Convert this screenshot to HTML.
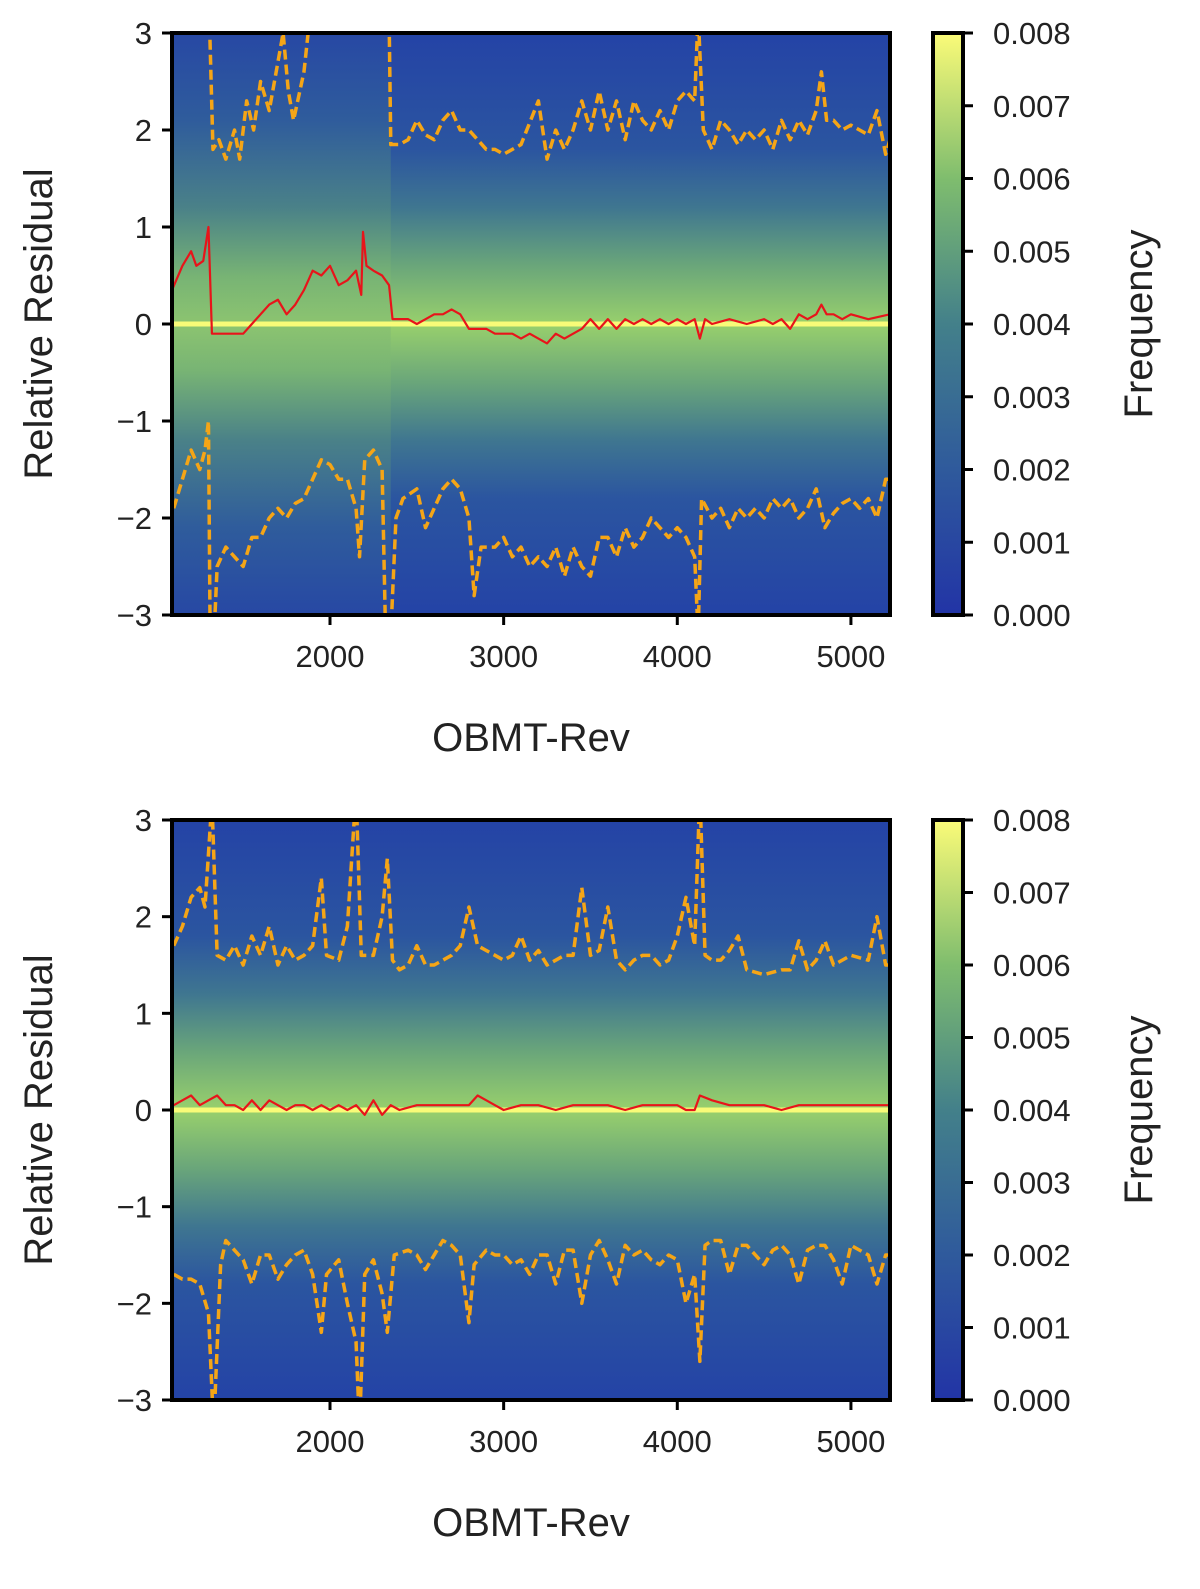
<!DOCTYPE html>
<html><head><meta charset="utf-8"><style>
html,body{margin:0;padding:0;background:#fff;width:1200px;height:1589px;overflow:hidden}
svg{display:block;font-family:"Liberation Sans",sans-serif}
</style></head><body>
<svg id="fig" width="1200" height="1589" viewBox="0 0 1200 1589">
<defs>
<linearGradient id="cb" x1="0" y1="1" x2="0" y2="0">
<stop offset="0" stop-color="#2234a6"/><stop offset="0.25" stop-color="#2f5a9c"/><stop offset="0.5" stop-color="#43808a"/><stop offset="0.75" stop-color="#7fbd6e"/><stop offset="1" stop-color="#fbfb78"/>
</linearGradient>
<linearGradient id="hm" x1="0" y1="0" x2="0" y2="1">
<stop offset="0" stop-color="#2443a6"/><stop offset="0.2" stop-color="#2b55a0"/><stop offset="0.3" stop-color="#3f7690"/><stop offset="0.4" stop-color="#6aa67a"/><stop offset="0.5" stop-color="#98d06c"/><stop offset="0.6" stop-color="#6aa67a"/><stop offset="0.7" stop-color="#3f7690"/><stop offset="0.8" stop-color="#2b55a0"/><stop offset="1" stop-color="#2443a6"/>
</linearGradient>
<linearGradient id="hmw" x1="0" y1="0" x2="0" y2="1">
<stop offset="0" stop-color="#2748a4"/><stop offset="0.15" stop-color="#2f5c9c"/><stop offset="0.3" stop-color="#4a8188"/><stop offset="0.42" stop-color="#78b474"/><stop offset="0.5" stop-color="#8cc470"/><stop offset="0.58" stop-color="#78b474"/><stop offset="0.7" stop-color="#4a8188"/><stop offset="0.85" stop-color="#2f5c9c"/><stop offset="1" stop-color="#2748a4"/>
</linearGradient>
<clipPath id="c1"><rect x="172" y="33" width="718" height="582"/></clipPath>
<clipPath id="c2"><rect x="172" y="820" width="718" height="580"/></clipPath>
</defs>
<g id="p1"></g>
<g id="p2"></g>
</svg>
<script>
const xTicks=[2000,3000,4000,5000];
const yTicks=[3,2,1,0,-1,-2,-3];
const cbTicks=["0.000","0.001","0.002","0.003","0.004","0.005","0.006","0.007","0.008"];

const topUpX=[1100,1300,1326,1360,1400,1450,1480,1520,1560,1600,1650,1700,1730,1760,1790,1850,1880,1950,2050,2100,2340,2350,2400,2450,2500,2550,2600,2650,2700,2750,2800,2850,2900,2950,3000,3100,3200,3250,3300,3350,3400,3450,3500,3550,3600,3650,3700,3750,3800,3850,3900,3950,4000,4050,4100,4120,4150,4200,4250,4300,4350,4400,4450,4500,4550,4600,4650,4700,4750,4800,4830,4860,4900,4950,5000,5050,5100,5150,5200,5225];
const topUpY=[3.5,3.5,1.8,1.9,1.7,2.0,1.7,2.3,2.0,2.5,2.2,2.7,3.0,2.4,2.1,2.6,3.1,3.4,3.0,3.2,3.2,1.85,1.85,1.9,2.1,1.95,1.9,2.1,2.2,2.0,2.0,1.9,1.8,1.8,1.75,1.85,2.3,1.7,2.0,1.8,2.0,2.3,2.0,2.4,2.0,2.3,1.9,2.3,2.1,2.0,2.2,2.0,2.3,2.4,2.3,3.2,2.0,1.8,2.1,2.0,1.85,2.0,1.9,2.0,1.8,2.1,1.9,2.1,1.95,2.2,2.6,2.1,2.1,2.0,2.05,2.0,1.95,2.2,1.75,1.9];
const topLoX=[1100,1150,1200,1250,1280,1300,1310,1330,1350,1400,1450,1500,1550,1600,1650,1700,1750,1800,1850,1900,1950,2000,2050,2100,2150,2170,2200,2250,2300,2320,2350,2380,2420,2500,2550,2600,2650,2700,2750,2800,2830,2870,2950,3000,3050,3100,3150,3200,3250,3300,3350,3400,3450,3500,3550,3600,3650,3700,3750,3800,3850,3900,3950,4000,4050,4100,4120,4140,4200,4250,4300,4350,4400,4450,4500,4550,4600,4650,4700,4750,4800,4850,4900,4950,5000,5050,5100,5150,5200,5225];
const topLoY=[-1.9,-1.6,-1.3,-1.5,-1.3,-1.0,-3.3,-3.3,-2.5,-2.3,-2.4,-2.5,-2.2,-2.2,-2.0,-1.9,-2.0,-1.85,-1.8,-1.6,-1.4,-1.45,-1.6,-1.6,-1.9,-2.4,-1.4,-1.3,-1.5,-3.2,-3.2,-2.0,-1.8,-1.7,-2.1,-1.9,-1.7,-1.6,-1.7,-2.0,-2.8,-2.3,-2.3,-2.2,-2.4,-2.3,-2.5,-2.4,-2.5,-2.3,-2.6,-2.3,-2.5,-2.6,-2.2,-2.2,-2.4,-2.1,-2.3,-2.2,-2.0,-2.1,-2.2,-2.1,-2.2,-2.4,-3.2,-1.8,-2.0,-1.9,-2.1,-1.9,-2.0,-1.9,-2.0,-1.8,-1.9,-1.8,-2.0,-1.9,-1.7,-2.1,-1.95,-1.85,-1.8,-1.9,-1.8,-2.0,-1.6,-1.6];
const topMedX=[1090,1150,1200,1230,1270,1300,1320,1350,1400,1450,1500,1550,1600,1650,1700,1750,1800,1850,1900,1950,2000,2050,2100,2150,2180,2190,2210,2250,2300,2340,2360,2400,2450,2500,2550,2600,2650,2700,2750,2800,2850,2900,2950,3000,3050,3100,3150,3200,3250,3300,3350,3400,3450,3500,3550,3600,3650,3700,3750,3800,3850,3900,3950,4000,4050,4100,4130,4160,4200,4300,4400,4500,4550,4600,4650,4700,4750,4800,4830,4860,4900,4950,5000,5100,5225];
const topMedY=[0.35,0.6,0.75,0.6,0.65,1.0,-0.1,-0.1,-0.1,-0.1,-0.1,0.0,0.1,0.2,0.25,0.1,0.2,0.35,0.55,0.5,0.6,0.4,0.45,0.55,0.3,0.95,0.6,0.55,0.5,0.4,0.05,0.05,0.05,0.0,0.05,0.1,0.1,0.15,0.1,-0.05,-0.05,-0.05,-0.1,-0.1,-0.1,-0.15,-0.1,-0.15,-0.2,-0.1,-0.15,-0.1,-0.05,0.05,-0.05,0.05,-0.05,0.05,0.0,0.05,0.0,0.05,0.0,0.05,0.0,0.05,-0.15,0.05,0.0,0.05,0.0,0.05,0.0,0.05,-0.05,0.1,0.05,0.1,0.2,0.1,0.1,0.05,0.1,0.05,0.1];

const botUpX=[1100,1150,1200,1250,1280,1320,1350,1400,1450,1500,1550,1600,1650,1700,1750,1800,1850,1900,1950,1980,2050,2100,2150,2180,2250,2300,2330,2360,2400,2450,2500,2550,2600,2650,2700,2750,2800,2850,2900,2950,3000,3050,3100,3150,3200,3250,3300,3350,3400,3450,3500,3550,3600,3650,3700,3750,3800,3850,3900,3950,4000,4050,4100,4130,4160,4200,4250,4300,4350,4400,4500,4600,4650,4700,4750,4800,4850,4900,5000,5100,5150,5200,5225];
const botUpY=[1.7,1.9,2.2,2.3,2.1,3.2,1.6,1.55,1.7,1.5,1.8,1.6,1.9,1.5,1.7,1.55,1.6,1.7,2.4,1.6,1.55,1.9,3.3,1.6,1.6,2.0,2.6,1.55,1.45,1.5,1.7,1.5,1.5,1.55,1.6,1.7,2.1,1.7,1.65,1.6,1.55,1.6,1.8,1.55,1.65,1.5,1.55,1.6,1.6,2.3,1.6,1.65,2.1,1.55,1.45,1.55,1.6,1.6,1.5,1.55,1.8,2.2,1.7,3.3,1.6,1.55,1.55,1.65,1.8,1.45,1.4,1.45,1.45,1.75,1.45,1.55,1.75,1.5,1.6,1.55,2.0,1.5,1.5];
const botLoX=[1100,1150,1200,1250,1300,1330,1370,1400,1450,1500,1550,1600,1650,1700,1750,1800,1850,1900,1950,1980,2050,2100,2150,2170,2200,2250,2300,2330,2370,2450,2500,2550,2600,2650,2700,2750,2800,2830,2900,2950,3000,3050,3100,3150,3200,3250,3300,3350,3400,3450,3500,3550,3600,3650,3700,3750,3800,3850,3900,3950,4000,4050,4100,4130,4160,4200,4250,4300,4350,4400,4450,4500,4550,4600,4650,4700,4750,4800,4850,4900,4950,5000,5100,5150,5200,5225];
const botLoY=[-1.7,-1.75,-1.75,-1.8,-2.1,-3.3,-1.6,-1.35,-1.45,-1.55,-1.8,-1.5,-1.5,-1.75,-1.6,-1.5,-1.45,-1.7,-2.3,-1.7,-1.55,-2.0,-2.4,-3.3,-1.7,-1.55,-1.9,-2.3,-1.5,-1.45,-1.5,-1.65,-1.5,-1.35,-1.4,-1.5,-2.2,-1.6,-1.45,-1.5,-1.5,-1.6,-1.55,-1.7,-1.5,-1.5,-1.8,-1.45,-1.45,-2.0,-1.5,-1.35,-1.55,-1.8,-1.4,-1.5,-1.45,-1.55,-1.6,-1.5,-1.55,-2.0,-1.7,-2.6,-1.4,-1.35,-1.35,-1.7,-1.4,-1.4,-1.5,-1.6,-1.45,-1.4,-1.5,-1.8,-1.45,-1.4,-1.4,-1.55,-1.8,-1.4,-1.5,-1.8,-1.5,-1.5];
const botMedX=[1100,1150,1200,1250,1300,1350,1400,1450,1500,1550,1600,1650,1700,1750,1800,1850,1900,1950,2000,2050,2100,2150,2200,2250,2300,2350,2400,2500,2600,2700,2800,2850,2900,2950,3000,3100,3200,3300,3400,3500,3600,3700,3800,3900,4000,4050,4100,4130,4200,4300,4400,4500,4600,4700,4800,4900,5000,5100,5225];
const botMedY=[0.05,0.1,0.15,0.05,0.1,0.15,0.05,0.05,0.0,0.1,0.0,0.1,0.05,0.0,0.05,0.05,0.0,0.05,0.0,0.05,0.0,0.05,-0.05,0.1,-0.05,0.05,0.0,0.05,0.05,0.05,0.05,0.15,0.1,0.05,0.0,0.05,0.05,0.0,0.05,0.05,0.05,0.0,0.05,0.05,0.05,0.0,0.0,0.15,0.1,0.05,0.05,0.05,0.0,0.05,0.05,0.05,0.05,0.05,0.05];

const NS="http://www.w3.org/2000/svg";
function mk(tag,attrs,parent){const e=document.createElementNS(NS,tag);for(const k in attrs)e.setAttribute(k,attrs[k]);parent.appendChild(e);return e;}
const XMIN=1090,XMAX=5225,PL=172,PR=890;
function sx(v){return PL+(v-XMIN)/(XMAX-XMIN)*(PR-PL);}

function panel(g,top,bot,clip,wideEnd,upX,upY,loX,loY,mdX,mdY){
  const sy=v=>top+(3-v)/6*(bot-top);
  const hm=mk('rect',{x:PL,y:top,width:PR-PL,height:bot-top,fill:'url(#hm)'},g);
  
  
  if(wideEnd){const w=mk('rect',{x:PL,y:top,width:sx(wideEnd)-PL,height:bot-top,fill:'url(#hmw)'},g);
    
    }
  const cg=mk('g',{'clip-path':'url(#'+clip+')'},g);
  const zl=mk('line',{x1:PL,x2:PR,y1:sy(0),y2:sy(0),stroke:'#f8fb78','stroke-width':5},cg);
  
  
  function line(xs,ys,col,dash,w,name){
    const p=mk('polyline',{points:xs.map((x,i)=>sx(x)+','+sy(ys[i])).join(' '),fill:'none',stroke:col,'stroke-width':w,'stroke-dasharray':dash,'stroke-linejoin':'round'},cg);
    
    
  }
  line(upX,upY,'#f5a516','10,5',3.5,'upper-percentile-line');
  line(loX,loY,'#f5a516','10,5',3.5,'lower-percentile-line');
  line(mdX,mdY,'#e8141a','none',2.2,'median-line');
  const fr=mk('rect',{x:PL,y:top,width:PR-PL,height:bot-top,fill:'none',stroke:'#000','stroke-width':4},g);
  
  
  yTicks.forEach(v=>{
    mk('line',{x1:PL-10,x2:PL,y1:sy(v),y2:sy(v),stroke:'#000','stroke-width':3},g);
    const t=mk('text',{x:PL-20,y:sy(v)+11,'text-anchor':'end','font-size':31,fill:'#222'},g);
    t.textContent=(v<0?'\u2212'+(-v):''+v);
    
    
  });
  xTicks.forEach(v=>{
    mk('line',{x1:sx(v),x2:sx(v),y1:bot,y2:bot+10,stroke:'#000','stroke-width':3},g);
    const t=mk('text',{x:sx(v),y:bot+52,'text-anchor':'middle','font-size':31,fill:'#222'},g);
    t.textContent=v;
    
    
  });
  const xl=mk('text',{x:531,y:bot+136,'text-anchor':'middle','font-size':40,fill:'#222'},g);
  xl.textContent='OBMT-Rev';
  
  
  const yl=mk('text',{x:0,y:0,'text-anchor':'middle','font-size':40,fill:'#222',transform:'translate(52,'+((top+bot)/2)+') rotate(-90)'},g);
  yl.textContent='Relative Residual';
  
  
  const cb=mk('rect',{x:933,y:top,width:30,height:bot-top,fill:'url(#cb)',stroke:'#000','stroke-width':4},g);
  
  
  cbTicks.forEach((s,i)=>{
    const yy=bot-(i/(cbTicks.length-1))*(bot-top);
    mk('line',{x1:963,x2:973,y1:yy,y2:yy,stroke:'#000','stroke-width':3},g);
    const t=mk('text',{x:993,y:yy+11,'font-size':31,fill:'#222'},g);
    t.textContent=s;
    
    
  });
  const fl=mk('text',{x:0,y:0,'text-anchor':'middle','font-size':40,fill:'#222',transform:'translate(1152,'+((top+bot)/2)+') rotate(-90)'},g);
  fl.textContent='Frequency';
  
  
}
panel(document.getElementById('p1'),33,615,'c1',2350,topUpX,topUpY,topLoX,topLoY,topMedX,topMedY);
panel(document.getElementById('p2'),820,1400,'c2',0,botUpX,botUpY,botLoX,botLoY,botMedX,botMedY);
</script>
</body></html>
